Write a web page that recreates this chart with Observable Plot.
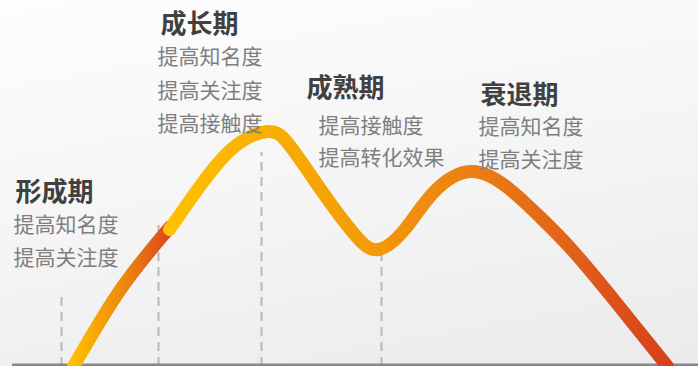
<!DOCTYPE html>
<html>
<head>
<meta charset="utf-8">
<script src="https://cdn.jsdelivr.net/npm/d3@7"></script>
<script src="https://cdn.jsdelivr.net/npm/@observablehq/plot@0.6"></script>
<style>
  html, body { margin: 0; padding: 0; }
  body { width: 698px; height: 366px; overflow: hidden;
         background: linear-gradient(170deg, #fdfdfd 0%, #f4f4f4 55%, #ebebeb 100%); }
  #chart svg { display: block; background: transparent; }
</style>
</head>
<body>
<div id="chart"></div>
<script>
// Product life-cycle curve (x = time position, y = level above baseline)
const riseX = [73, 120, 170];
const riseY = [0, 77, 140];
const mainX = [169, 200, 233, 267, 290, 323, 355, 378, 405, 433, 470, 507, 540, 573, 618, 667];
const mainY = [137, 181, 219, 235, 220, 173, 131, 117, 138, 174, 195, 179, 149, 115, 61, 0];

// Dashed stage dividers
const dividerX = [61, 158, 261, 381];
const dividerTop = [74, 141, 214, 115];

// Stages and their descriptions
const stages = ["形成期", "成长期", "成熟期", "衰退期"];
const stageX = [15, 160, 306, 480];
const stageY = [174, 342, 278, 271];
const descriptions = [
  ["提高知名度", "提高关注度"],
  ["提高知名度", "提高关注度", "提高接触度"],
  ["提高接触度", "提高转化效果"],
  ["提高知名度", "提高关注度"]
];
const descX = [13, 157, 318, 478];
const descTopY = [141, 309, 240, 239];
const descStep = [33, 33.5, 32, 33];

const baselineStart = 12;

const rise = riseX.map((x, i) => ({x, y: riseY[i]}));
const main = mainX.map((x, i) => ({x, y: mainY[i]}));
const dividers = dividerX.map((x, i) => ({x, top: dividerTop[i]}));
const titles = stages.map((s, i) => ({s, x: stageX[i], y: stageY[i]}));
const descs = descriptions.flatMap((arr, i) =>
  arr.map((t, j) => ({t, x: descX[i], y: descTopY[i] - j * descStep[i]})));

const defs = () => {
  const d = d3.create("svg:defs");
  const g1 = d.append("linearGradient").attr("id", "gRise")
    .attr("x1", "0").attr("y1", "0").attr("x2", "1").attr("y2", "0");
  [[0, "#FFBE00"], [0.5, "#EE8A0C"], [1, "#D9461C"]].forEach(([o, c]) =>
    g1.append("stop").attr("offset", o).attr("stop-color", c));
  const g2 = d.append("linearGradient").attr("id", "gMain")
    .attr("x1", "0").attr("y1", "0").attr("x2", "1").attr("y2", "0");
  [[0, "#FFC100"], [0.2, "#F9AE02"], [0.42, "#F3980A"], [0.6, "#EC8012"], [0.8, "#E2621A"], [1, "#D7401B"]]
    .forEach(([o, c]) => g2.append("stop").attr("offset", o).attr("stop-color", c));
  return d.node();
};

const font = "'Noto Sans CJK SC', 'Noto Sans', sans-serif";

const chart = Plot.plot({
  width: 698,
  height: 366,
  margin: 0,
  x: {domain: [0, 698], axis: null},
  y: {domain: [0, 366], axis: null},
  style: {background: "transparent", fontFamily: font},
  marks: [
    defs,
    Plot.ruleX(dividers, {x: "x", y1: 0, y2: "top", stroke: "#bdbdbd", strokeWidth: 2.2, strokeDasharray: "9,6"}),
    Plot.ruleY([0], {x1: baselineStart, x2: 698, dy: -1.5, stroke: "#878787", strokeWidth: 3}),
    Plot.line(rise, {x: "x", y: "y", curve: "natural", stroke: "url(#gRise)", strokeWidth: 13, strokeLinecap: "round"}),
    Plot.line(main, {x: "x", y: "y", curve: "natural", stroke: "url(#gMain)", strokeWidth: 13, strokeLinecap: "round"}),
    Plot.text(titles, {x: "x", y: "y", text: "s", textAnchor: "start", lineAnchor: "middle",
      fontSize: 26, fontWeight: "bold", fill: "#404040", fontFamily: font}),
    Plot.text(descs, {x: "x", y: "y", text: "t", textAnchor: "start", lineAnchor: "middle",
      fontSize: 21, fill: "#7f7f7f", fontFamily: font})
  ]
});
document.getElementById("chart").append(chart);
</script>
</body>
</html>
